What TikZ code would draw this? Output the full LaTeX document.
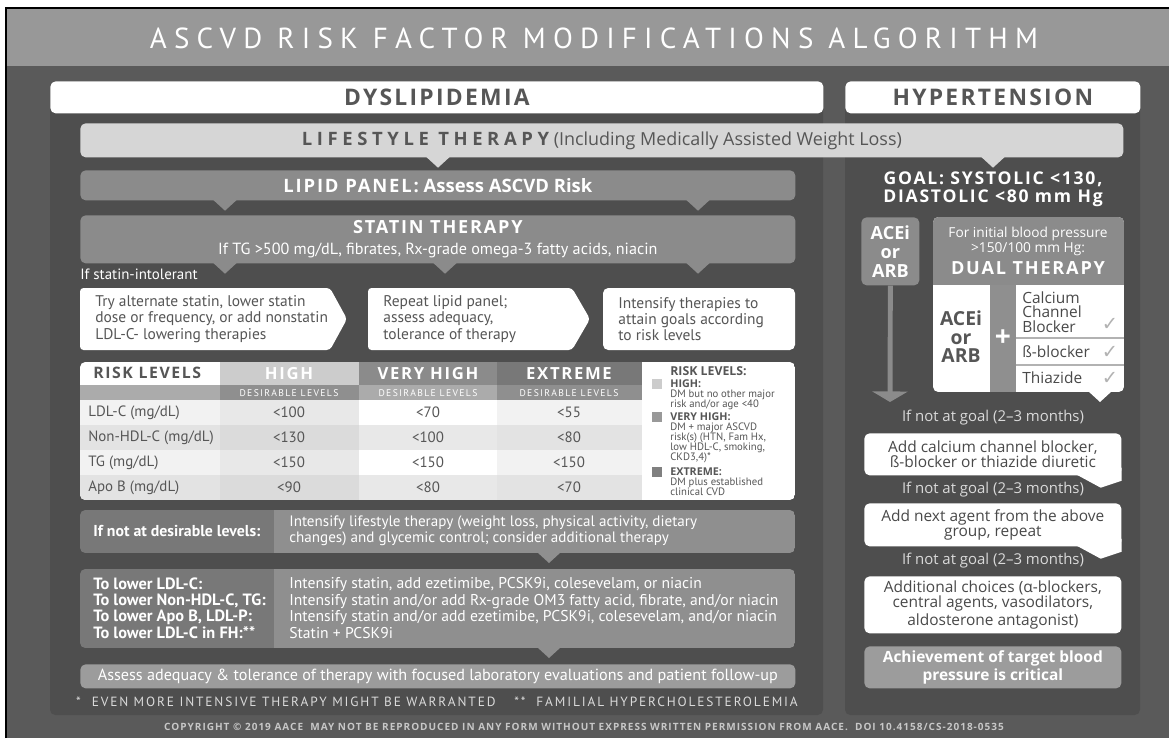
\documentclass[tikz,border=0pt]{standalone}
\usepackage{fontspec}
\setmainfont{PT Sans}
\newfontfamily\osf{Open Sans}
\newfontfamily\osfs[LetterSpace=10]{Open Sans}
\newfontfamily\osfw[LetterSpace=25]{Open Sans}
\newfontfamily\pts[LetterSpace=14]{PT Sans}
\newfontfamily\ttl[LetterSpace=25]{PT Sans}
\newfontfamily\dvs{DejaVu Sans}
\usetikzlibrary{arrows.meta}
\definecolor{frame}{HTML}{5A5A5A}
\definecolor{pane}{HTML}{4E4E4E}
\definecolor{band}{HTML}{989898}
\definecolor{pale}{HTML}{D6D6D6}
\definecolor{mid}{HTML}{8B8B8B}
\definecolor{midl}{HTML}{8F8F8F}
\definecolor{midd}{HTML}{787878}
\definecolor{soft}{HTML}{9C9C9C}
\definecolor{ink}{HTML}{565656}
\definecolor{note}{HTML}{DADADA}
\newcommand\pw[1]{#1*0.02cm}
\newcommand\tightlines{\lineskiplimit=-10pt}
\newcommand\tail[3]{\fill[#3] (#1 -| #2,0) ++(-12,-1) -- ++(12,11) -- ++(12,-11) -- cycle;}
\newcommand\ctail[2]{\fill[#2] (#1.south east) ++(-45,-1) -- ++(45,-7) -- ++(0,13) -- ++(-21,7) -- cycle;}

\begin{document}
\begin{tikzpicture}[x=0.02cm,y=-0.02cm,
  barbox/.style={anchor=north west,inner sep=0pt,rounded corners=3pt,align=center},
  tab/.style={barbox,fill=white,minimum height=\pw{32},text=ink,font=\osfs\bfseries\fontsize{13}{14}\selectfont},
  wbox/.style={barbox,fill=white,minimum width=\pw{257},text=ink!85!black,font=\osf\fontsize{8.8}{8.6}\selectfont},
  body/.style={inner sep=0pt,anchor=west,align=left,font=\fontsize{8.8}{9.2}\selectfont},
  cell/.style={inner sep=0pt,text=ink,font=\fontsize{8.5}{10}\selectfont},
  leg/.style={inner sep=0pt,anchor=north west,align=left,text=ink,font=\fontsize{6.1}{5.8}\selectfont\tightlines},
  goaltxt/.style={inner sep=0pt,text=note,font=\osf\fontsize{8.5}{9}\selectfont},
  chk/.style={inner sep=0pt,text=black!30,font=\dvs\fontsize{11}{11}\selectfont}]

\useasboundingbox (0,0) rectangle (1169,738);
\fill[white] (0,0) rectangle (1169,738);
\fill[frame] (6,8) rectangle (1169,738);
\fill[band] (6,8) rectangle (1169,66);
\draw[line width=1.2pt] (6,738) -- (6,8) -- (1169,8);
\node[inner sep=0pt,text=white,font=\ttl\fontsize{16.5}{18}\selectfont] (title) at (594,38) {ASCVD RISK FACTOR MODIFICATIONS ALGORITHM};

\fill[pane,rounded corners=3pt] (50,81) rectangle (823,715);
\fill[pane,rounded corners=3pt] (845,81) rectangle (1140,715);
\node[tab,minimum width=\pw{773}] (dys) at (50,81) {DYSLIPIDEMIA};
\node[tab,minimum width=\pw{295}] (hyp) at (845,81) {HYPERTENSION};

\node[barbox,fill=pale,minimum width=\pw{1043},minimum height=\pw{34},text=ink] (life) at (80,123)
  {{\osfw\bfseries\fontsize{10.5}{12}\selectfont LIFESTYLE THERAPY} {\osf\fontsize{10.2}{11}\selectfont(Including Medically Assisted Weight Loss)}};
\tail{life.south}{438}{pale}
\tail{life.south}{993}{pale}

\node[barbox,fill=mid,minimum width=\pw{715},minimum height=\pw{30},text=white,font=\osf\bfseries\fontsize{10.5}{11}\selectfont] (lipid) at (80,170)
  {{\osfs LIPID PANEL:} Assess ASCVD Risk};
\tail{lipid.south}{225}{mid}
\tail{lipid.south}{698}{mid}

\node[barbox,fill=mid,minimum width=\pw{715},minimum height=\pw{48},text=white] (statin) at (80,215)
  {{\osfs\bfseries\fontsize{10.3}{11}\selectfont STATIN THERAPY}\\[0pt]{\fontsize{9.2}{9.5}\selectfont If TG >500 mg/dL, fibrates, Rx-grade omega-3 fatty acids, niacin}};
\foreach \x in {225,445,698} {\tail{statin.south}{\x}{mid}}
\node[body,text=white,font=\fontsize{8.5}{9}\selectfont] (intol) at (80,274) {If statin-intolerant};

\fill[white,rounded corners=2pt] (80,288) -- (330,288) -- (347,319) -- (330,350) -- (80,350) -- cycle;
\fill[white,rounded corners=2pt] (368,288) -- (572,288) -- (590,319) -- (572,350) -- (368,350) -- cycle;
\fill[white,rounded corners=3pt] (603,288) rectangle (795,350);
\node[body,text=ink] (alt) at (95,319) {Try alternate statin, lower statin\\dose or frequency, or add nonstatin\\LDL-C- lowering therapies};
\node[body,text=ink] (rep) at (383,319) {Repeat lipid panel;\\assess adequacy,\\tolerance of therapy};
\node[body,text=ink] (goals) at (618,319) {Intensify therapies to\\attain goals according\\to risk levels};

\begin{scope}
  \clip[rounded corners=3pt] (80,362) rectangle (795,500);
  \fill[white] (80,362) rectangle (795,500);
  \fill[black!20] (220,362) rectangle (359,385);
  \fill[mid] (359,362) rectangle (497,385);
  \fill[midd] (497,362) rectangle (642,385);
  \fill[black!33] (80,385) rectangle (642,400);
  \fill[black!44] (220,385) rectangle (359,400);
  \fill[black!44] (497,385) rectangle (642,400);
  \foreach \lab/\va/\vb/\vc [count=\i from 0] in {{LDL-C (mg/dL)}/{<100}/{<70}/{<55},
      {Non-HDL-C (mg/dL)}/{<130}/{<100}/{<80}, {TG (mg/dL)}/{<150}/{<150}/{<150},
      {Apo B (mg/dL)}/{<90}/{<80}/{<70}} {
    \pgfmathsetmacro\y{400+25*\i}
    \ifodd\i \def\ra{black!11}\def\rb{black!14}\def\rc{black!9}\else\def\ra{black!5}\def\rb{black!9}\def\rc{white}\fi
    \fill[\ra] (80,\y) rectangle (642,\y+25);
    \fill[\rb] (220,\y) rectangle (359,\y+25);
    \fill[\rc] (359,\y) rectangle (497,\y+25);
    \node[cell,anchor=west] (lab\i) at (88,\y+12.5) {\lab};
    \node[cell] (hi\i) at (289,\y+12.5) {\va};
    \node[cell] (vh\i) at (428,\y+12.5) {\vb};
    \node[cell] (ex\i) at (569,\y+12.5) {\vc};
  }
\end{scope}
\node[cell,anchor=west,font=\osfs\bfseries\fontsize{9}{10}\selectfont] (rl) at (93,373) {RISK LEVELS};
\node[cell,text=white,font=\osfs\bfseries\fontsize{9.5}{10}\selectfont] (hh) at (289,374) {HIGH};
\node[cell,text=white,font=\osfs\bfseries\fontsize{9.5}{10}\selectfont] (vhh) at (428,374) {VERY HIGH};
\node[cell,text=white,font=\osfs\bfseries\fontsize{9.5}{10}\selectfont] (exh) at (569,374) {EXTREME};
\foreach \x [count=\k] in {289,428,569}
  \node[inner sep=0pt,text=white,font=\pts\fontsize{5.5}{6}\selectfont] (des\k) at (\x,393) {DESIRABLE LEVELS};

\node[cell,anchor=west,font=\osf\bfseries\fontsize{7}{7}\selectfont] (key) at (670,371) {RISK LEVELS:};
\fill[black!20] (652,379) rectangle (662,389);
\fill[black!40] (652,412) rectangle (662,422);
\fill[black!50] (652,467) rectangle (662,477);
\node[leg] (khigh) at (670,379) {{\osf\bfseries HIGH:}\\DM but no other major\\risk and/or age <40};
\node[leg] (kvery) at (670,412) {{\osf\bfseries VERY HIGH:}\\DM + major ASCVD\\risk(s) (HTN, Fam Hx,\\low HDL-C, smoking,\\CKD3,4)*};
\node[leg] (kext) at (670,467) {{\osf\bfseries EXTREME:}\\DM plus established\\clinical CVD};

\begin{scope}
  \clip[rounded corners=3pt] (80,510) rectangle (795,553);
  \fill[midd] (80,510) rectangle (274,553);
  \fill[midl] (274,510) rectangle (795,553);
\end{scope}
\coordinate (ifbox) at (437,553);
\tail{ifbox}{549}{midl}
\node[body,text=white,font=\bfseries\fontsize{9}{9.3}\selectfont] (notdes) at (93,531) {If not at desirable levels:};
\node[body,text=white,font=\fontsize{8.6}{9.3}\selectfont] (more) at (289,531) {Intensify lifestyle therapy (weight loss, physical activity, dietary\\changes) and glycemic control; consider additional therapy};

\begin{scope}
  \clip[rounded corners=3pt] (80,569) rectangle (795,648);
  \fill[midd] (80,569) rectangle (274,648);
  \fill[midl] (274,569) rectangle (795,648);
\end{scope}
\coordinate (lowbox) at (437,648);
\tail{lowbox}{549}{midl}
\node[body,text=white,font=\bfseries\fontsize{9.3}{9.35}\selectfont] (tolow) at (93,608) {To lower LDL-C:\\To lower Non-HDL-C, TG:\\To lower Apo B, LDL-P:\\To lower LDL-C in FH:**};
\node[body,text=white,font=\fontsize{8.9}{9.35}\selectfont] (drugs) at (289,608) {Intensify statin, add ezetimibe, PCSK9i, colesevelam, or niacin\\Intensify statin and/or add Rx-grade OM3 fatty acid, fibrate, and/or niacin\\Intensify statin and/or add ezetimibe, PCSK9i, colesevelam, and/or niacin\\Statin + PCSK9i};

\node[barbox,fill=soft,minimum width=\pw{715},minimum height=\pw{24},text=white,font=\fontsize{9.2}{10}\selectfont] (assess) at (80,664)
  {Assess adequacy \& tolerance of therapy with focused laboratory evaluations and patient follow-up};
\node[inner sep=0pt,text=note,font=\pts\fontsize{7.6}{8}\selectfont] (foot) at (437,702)
  {*~~EVEN MORE INTENSIVE THERAPY MIGHT BE WARRANTED\quad\ **~~FAMILIAL HYPERCHOLESTEROLEMIA};
\node[inner sep=0pt,text=black!22,font=\osfs\bfseries\fontsize{5.7}{6}\selectfont] (copy) at (584,727)
  {COPYRIGHT © 2019 AACE\ \ MAY NOT BE REPRODUCED IN ANY FORM WITHOUT EXPRESS WRITTEN PERMISSION FROM AACE.\ \ DOI 10.4158/CS-2018-0535};

\node[inner sep=0pt,align=center,text=white,font=\osfs\bfseries\fontsize{10}{10.3}\selectfont] (goal) at (993,189) {GOAL: SYSTOLIC <130,\\DIASTOLIC <80 mm Hg};
\node[barbox,fill=mid,minimum width=\pw{58},minimum height=\pw{68},text=white,font=\osf\bfseries\fontsize{10.3}{10.8}\selectfont] (acei) at (861,217) {ACEi\\or\\ARB};
\draw[mid,line width=2.8pt,-{Triangle[width=20pt,length=6pt]}] (acei.south) -- (890,402);

\begin{scope}
  \clip[rounded corners=3pt] (933,217) rectangle (1124,392);
  \fill[white] (933,217) rectangle (1124,392);
  \fill[mid] (933,217) rectangle (1124,285);
  \fill[midl] (990,285) rectangle (1016,392);
\end{scope}
\coordinate (dualbox) at (1028,392);
\tail{dualbox}{1100}{white}
\node[inner sep=0pt,align=center,text=white,font=\osf\fontsize{7.8}{8.5}\selectfont] (init) at (1028,241) {For initial blood pressure\\>150/100 mm Hg:};
\node[inner sep=0pt,text=white,font=\osfs\bfseries\fontsize{10.3}{11}\selectfont] (dual) at (1028,268) {DUAL THERAPY};
\node[inner sep=0pt,text=white,font=\osf\bfseries\fontsize{16}{16}\selectfont] (plus) at (1003,338) {+};
\draw[black!30,line width=1.2pt] (1016,338) -- (1124,338) (1016,365) -- (1124,365);
\node[inner sep=0pt,align=center,text=ink,font=\osf\bfseries\fontsize{11}{10.5}\selectfont] (acei2) at (961,337) {ACEi\\or\\ARB};
\node[body,text=ink!85!black,font=\osf\fontsize{8.8}{8.2}\selectfont] (ccb) at (1022,312) {Calcium\\Channel\\Blocker};
\node[body,text=ink!85!black,font=\osf\fontsize{8.8}{8.2}\selectfont] (bb) at (1022,352) {ß-blocker};
\node[body,text=ink!85!black,font=\osf\fontsize{8.8}{8.2}\selectfont] (thz) at (1022,378) {Thiazide};
\node[chk] (c1) at (1110,324) {✓};
\node[chk] (c2) at (1110,352) {✓};
\node[chk] (c3) at (1110,378) {✓};

\node[goaltxt] (ng1) at (993,418) {If not at goal (2–3 months)};
\node[wbox,minimum height=\pw{42}] (addccb) at (864,433) {Add calcium channel blocker,\\ß-blocker or thiazide diuretic};
\ctail{addccb}{white}
\node[goaltxt] (ng2) at (993,490) {If not at goal (2–3 months)};
\node[wbox,minimum height=\pw{43}] (addnext) at (864,503) {Add next agent from the above\\group, repeat};
\ctail{addnext}{white}
\node[goaltxt] (ng3) at (993,561) {If not at goal (2–3 months)};
\node[wbox,minimum height=\pw{57}] (addl) at (864,576) {Additional choices (α-blockers,\\central agents, vasodilators,\\aldosterone antagonist)};
\node[wbox,fill=soft,minimum height=\pw{42},text=white,font=\osf\bfseries\fontsize{8.8}{8.6}\selectfont] (achieve) at (864,646) {Achievement of target blood\\pressure is critical};
\end{tikzpicture}
\end{document}
